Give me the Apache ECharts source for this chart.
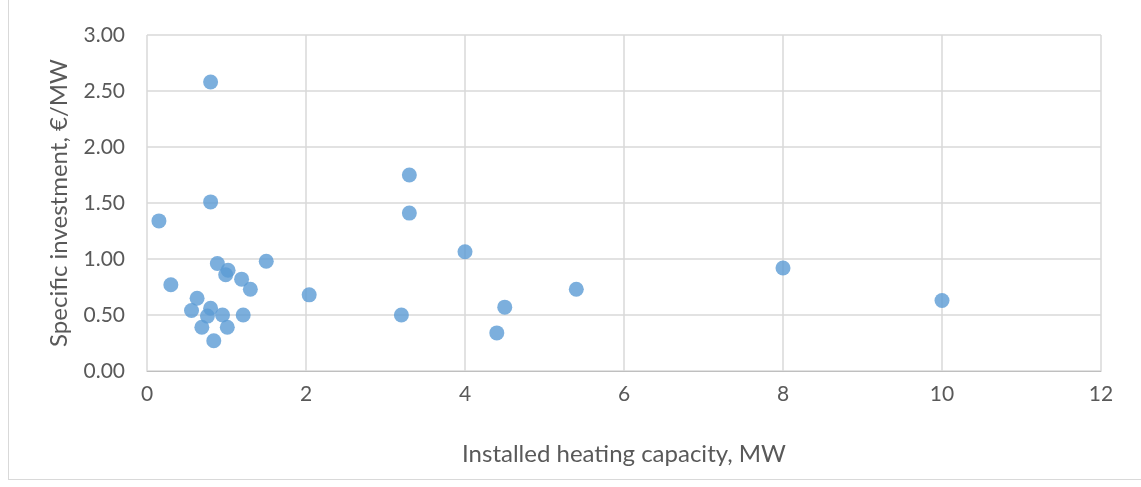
<!DOCTYPE html>
<html><head><meta charset="utf-8">
<script src="https://cdn.jsdelivr.net/npm/echarts@6/dist/echarts.min.js"></script>
<style>html,body{margin:0;padding:0;background:#fff;}
#frame{position:absolute;left:8px;top:-2px;width:1140px;height:482px;border:1px solid #d9d9d9;box-sizing:border-box;}
#c{position:absolute;left:0;top:0;width:1141px;height:487px;}</style>
</head><body><div id="frame"></div><div id="c"></div>
<script>
const capacityMW = [0.15,0.30,0.56,0.63,0.69,0.76,0.80,0.80,0.80,0.84,0.885,0.95,0.99,1.02,1.01,1.19,1.21,1.30,1.50,2.04,3.20,3.30,3.30,4.00,4.40,4.50,5.40,8.00,10.00];
const investment = [1.34,0.77,0.54,0.65,0.39,0.49,2.58,1.51,0.56,0.27,0.96,0.50,0.86,0.90,0.39,0.82,0.50,0.73,0.98,0.68,0.50,1.75,1.41,1.065,0.34,0.57,0.73,0.92,0.63];
const xTitle = 'Installed heating capacity, MW';
const yTitle = 'Specific investment, €/MW';
const chart = echarts.init(document.getElementById('c'), null, {renderer:'canvas'});
const font = 'Lato, "Open Sans", sans-serif';
chart.setOption({
  animation:false,
  grid:{left:147,right:40,top:35,bottom:116,containLabel:false},
  xAxis:{type:'value',min:0,max:12,interval:2,name:xTitle,nameLocation:'middle',nameGap:71,
    nameTextStyle:{color:'#595959',fontSize:24,fontFamily:font},
    axisLine:{show:true,lineStyle:{color:'#bfbfbf',width:1}},axisTick:{show:false},
    axisLabel:{color:'#595959',fontSize:21,fontFamily:font,margin:13},
    splitLine:{show:true,lineStyle:{color:'#d9d9d9',width:1.5}}},
  yAxis:{type:'value',min:0,max:3,interval:0.5,name:yTitle,nameLocation:'middle',nameGap:76,
    nameTextStyle:{color:'#595959',fontSize:24,fontFamily:font},
    axisLine:{show:false},axisTick:{show:false},
    axisLabel:{color:'#595959',fontSize:21,fontFamily:font,margin:22,formatter:v=>v.toFixed(2)},
    splitLine:{show:true,lineStyle:{color:'#d9d9d9',width:1.5}}},
  series:[{type:'scatter',symbol:'circle',symbolSize:15,
    itemStyle:{color:'#5b9bd5'},
    data:capacityMW.map((x,i)=>[x,investment[i]])}]
});
</script></body></html>
